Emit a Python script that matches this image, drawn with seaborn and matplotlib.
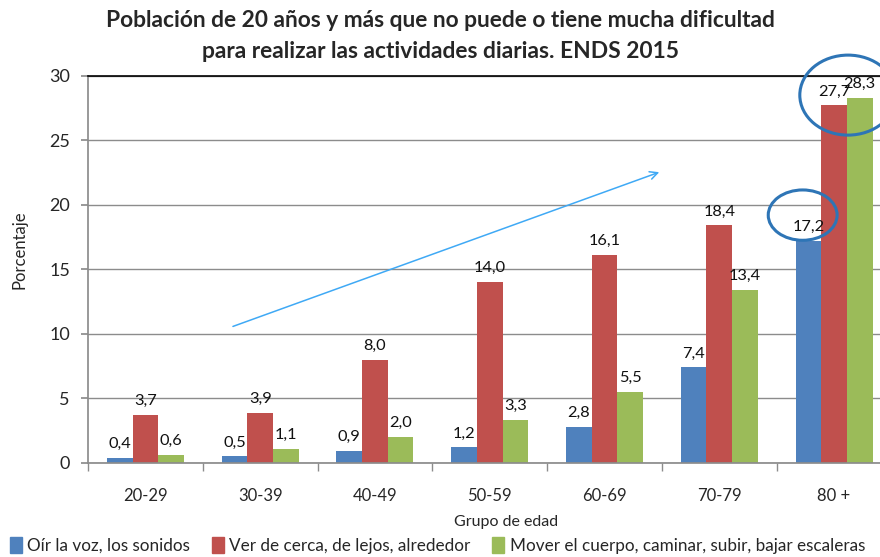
import matplotlib
matplotlib.use("Agg")
import matplotlib.pyplot as plt
import numpy as np
import pandas as pd
import seaborn as sns
from matplotlib.patches import Ellipse

# data
groups = ["20-29", "30-39", "40-49", "50-59", "60-69", "70-79", "80 +"]
series = [
    "Oír la voz, los sonidos",
    "Ver de cerca, de lejos, alrededor",
    "Mover el cuerpo, caminar, subir, bajar escaleras",
]
oir = [0.4, 0.5, 0.9, 1.2, 2.8, 7.4, 17.2]
ver = [3.7, 3.9, 8.0, 14.0, 16.1, 18.4, 27.7]
mover = [0.6, 1.1, 2.0, 3.3, 5.5, 13.4, 28.3]
colors = ["#4f81bd", "#c0504d", "#9bbb59"]

df = pd.DataFrame({
    "grupo": groups * 3,
    "serie": np.repeat(series, len(groups)),
    "valor": oir + ver + mover,
})

sns.set_theme(style="white")
plt.rcParams["font.family"] = ["Lato", "DejaVu Sans"]

fig = plt.figure(figsize=(8.8, 5.57), dpi=100)
ax = fig.add_axes([0.1, 0.169, 0.913, 0.695])

width = 0.67
sns.barplot(data=df, x="grupo", y="valor", hue="serie", palette=colors,
            width=width, saturation=1, ax=ax, legend=False, zorder=2,
            linewidth=0)

for cont in ax.containers:
    vals = [b.get_height() for b in cont]
    ax.bar_label(cont, labels=[f"{v:.1f}".replace(".", ",") for v in vals],
                 padding=5, fontsize=11.8, color="#111111")

ax.set_ylim(0, 30)
ax.set_yticks(range(0, 31, 5))
ax.set_xlim(-0.5, 6.4)
ax.grid(axis="y", color="#8c8c8c", lw=1, zorder=0)
ax.set_axisbelow(True)
ax.spines["right"].set_visible(False)
ax.spines["top"].set_color("#000000")
ax.spines["top"].set_linewidth(1.2)
ax.spines["left"].set_color("#8c8c8c")
ax.spines["bottom"].set_color("#8c8c8c")

ax.tick_params(axis="y", left=True, length=5, color="#8c8c8c", labelsize=13, pad=8)
ax.set_xticks(range(len(groups)))
ax.set_xticklabels(groups, fontsize=12)
ax.tick_params(axis="x", bottom=False, pad=12)
ax.set_xticks(np.arange(-0.5, len(groups), 1.0), minor=True)
ax.tick_params(axis="x", which="minor", bottom=True, length=6, color="#8c8c8c")

ax.set_xlabel("Grupo de edad", fontsize=11.5)
ax.xaxis.set_label_coords(0.52, -0.135)
ax.set_ylabel("Porcentaje", fontsize=12)
ax.yaxis.set_label_coords(-0.075, 0.55)

fig.suptitle("Población de 20 años y más que no puede o tiene mucha dificultad\n"
             "para realizar las actividades diarias. ENDS 2015",
             fontsize=16.4, fontweight="bold", y=0.982, linespacing=1.6)

# highlights: arrow and circles
ax.annotate("", xy=(4.5, 22.6), xytext=(0.74, 10.5),
            arrowprops=dict(arrowstyle="->", color="#3fa9f5", lw=1.1,
                            mutation_scale=14))
bw = width / 3
ax.add_patch(Ellipse((6 - bw - 0.05, oir[6] + 2.0), 0.6, 3.9, fill=False,
                     edgecolor="#2e75b6", lw=2.2, clip_on=False, zorder=5))
ax.add_patch(Ellipse((6 + bw / 2 + 0.01, max(ver[6], mover[6]) + 0.2), 0.84, 6.2,
                     fill=False, edgecolor="#2e75b6", lw=2.2,
                     clip_on=False, zorder=5))

handles = [plt.Rectangle((0, 0), 1, 1, color=c) for c in colors]
fig.legend(handles, series, loc="lower center", bbox_to_anchor=(0.497, -0.022),
           ncol=3, frameon=False, fontsize=12.3, handlelength=0.7,
           handleheight=1.0, handletextpad=0.3, columnspacing=1.3)

fig.savefig("out.png", dpi=100)
